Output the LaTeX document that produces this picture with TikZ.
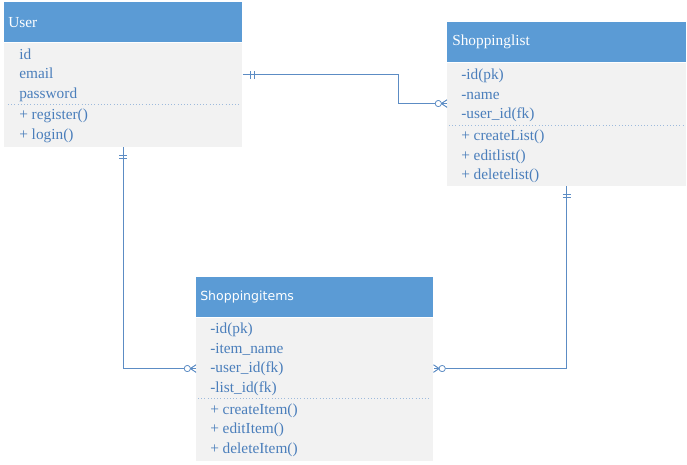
\documentclass[tikz,border=0pt]{standalone}
\usepackage{fontspec}
\setmainfont{Liberation Serif}
\newfontfamily\titlesans{DejaVu Sans}
\usetikzlibrary{positioning, calc, decorations.markings}
\definecolor{hdrblue}{RGB}{91,155,213}
\definecolor{bodygray}{RGB}{242,242,242}
\definecolor{txtblue}{RGB}{74,126,187}
\definecolor{relblue}{RGB}{92,140,196}

\begin{document}
\begin{tikzpicture}[
    x=0.75pt, y=-0.75pt,
    hdr/.style={anchor=north west, fill=hdrblue, text=white, minimum height=30pt, inner xsep=3pt, inner ysep=0pt, align=left, font=\fontsize{11.5}{14}\selectfont},
    body/.style={anchor=north west, fill=bodygray, inner sep=0pt},
    members/.style={anchor=base west, inner sep=0pt, align=left, text=txtblue, font=\fontsize{11.5}{14.6}\selectfont},
    sepline/.style={draw=relblue!60, dotted, line width=0.4pt},
    relline/.style={draw=relblue, line width=0.6pt},
    one/.style={postaction={decorate}, decoration={markings,
        mark=at position 6pt with {\draw[relblue, line width=0.5pt] (0,-3pt) -- (0,3pt);},
        mark=at position 8.5pt with {\draw[relblue, line width=0.5pt] (0,-3pt) -- (0,3pt);}}},
    many/.style={postaction={decorate}, decoration={markings,
        mark=at position -6.5pt with {\draw[relblue, line width=0.5pt, fill=white] (0,0) circle (2.3pt);
            \draw[relblue, line width=0.5pt] (2.3pt,0) -- (6.5pt,2.8pt) (2.3pt,0) -- (6.5pt,-2.8pt);}}},
]
    \useasboundingbox (0,0) rectangle (687,465);

    % User (base of a member list = its last line)
    \node[hdr, text width=172.5pt] (user) at (4,2) {User};
    \node[body, minimum width=178.5pt, minimum height=78pt] (user-body) at (user.south west) {};
    \node[members] (user-attr) at (19,98) {id\\email\\password};
    \draw[sepline] (8,104) -- (240,104);
    \node[members] (user-meth) at (19,139) {+ register()\\+ login()};

    % Shoppinglist
    \node[hdr, text width=171.75pt, inner xsep=3.75pt] (sl) at (447,22) {Shoppinglist};
    \node[body, minimum width=179.25pt, minimum height=92.25pt] (sl-body) at (sl.south west) {};
    \node[members] (sl-attr) at (461,118.5) {-id(pk)\\-name\\-user\_id(fk)};
    \draw[sepline] (449,125) -- (684,125);
    \node[members] (sl-meth) at (461,179.5) {+ createList()\\+ editlist()\\+ deletelist()};

    % Shoppingitems
    \node[hdr, text width=171.75pt, font=\titlesans\fontsize{9.4}{12}\selectfont] (si) at (196,277) {Shoppingitems};
    \node[body, minimum width=177.75pt, minimum height=107.25pt] (si-body) at (si.south west) {};
    \node[members] (si-attr) at (210,392) {-id(pk)\\-item\_name\\-user\_id(fk)\\-list\_id(fk)};
    \draw[sepline] (198,398) -- (431,398);
    \node[members] (si-meth) at (210,453) {+ createItem()\\+ editItem()\\+ deleteItem()};

    % relations
    \draw[relline, one, many] ([yshift=-24pt]user-body.north east) -- ++(156,0) |- ([yshift=-30.75pt]sl-body.north west);
    \draw[relline, one, many] (user-body.south) |- ([yshift=-38.25pt]si-body.north west);
    \draw[relline, one, many] (sl-body.south) |- ([yshift=-38.25pt]si-body.north east);
\end{tikzpicture}
\end{document}
